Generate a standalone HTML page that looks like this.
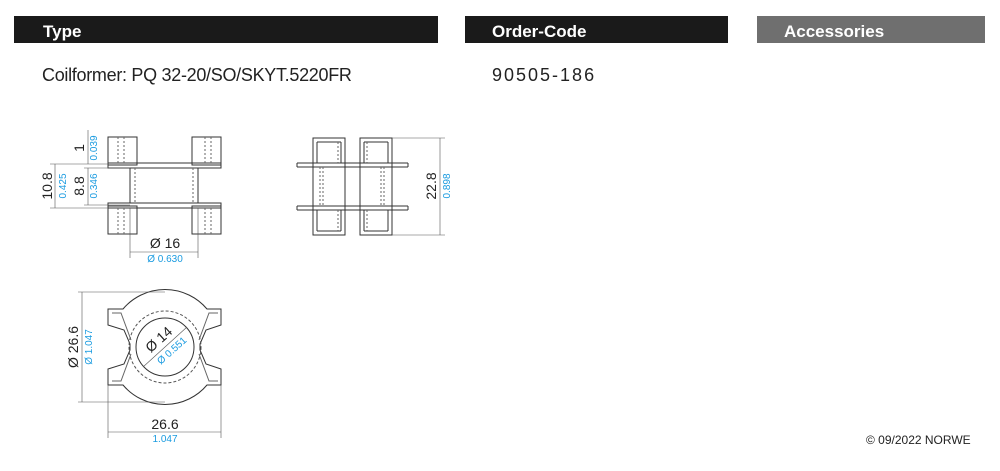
<!DOCTYPE html>
<html><head><meta charset="utf-8"><style>
html,body{margin:0;padding:0;background:#fff;}
body{width:1000px;height:466px;overflow:hidden;position:relative;font-family:"Liberation Sans",sans-serif;}
</style></head><body>
<svg width="1000" height="466" viewBox="0 0 1000 466" xmlns="http://www.w3.org/2000/svg" font-family="Liberation Sans, sans-serif">
<rect x="14" y="16" width="424" height="27" fill="#1a1a1a"/>
<rect x="465" y="16" width="263" height="27" fill="#1a1a1a"/>
<rect x="757" y="16" width="228" height="27" fill="#6f6f6f"/>
<text x="43" y="37" font-size="17" font-weight="bold" fill="#fff">Type</text>
<text x="492" y="37" font-size="17" font-weight="bold" fill="#fff">Order-Code</text>
<text x="784" y="37" font-size="17" font-weight="bold" fill="#fff">Accessories</text>
<text x="42" y="81" font-size="18" fill="#222" letter-spacing="-0.3">Coilformer:  PQ 32-20/SO/SKYT.5220FR</text>
<text x="492" y="81" font-size="18" fill="#222" letter-spacing="2">90505-186</text>
<text x="866" y="444" font-size="12" fill="#222">© 09/2022 NORWE</text>

<g fill="none" stroke="#333" stroke-width="1">
<rect x="108" y="137" width="29" height="28"/><rect x="192" y="137" width="29" height="28"/>
<rect x="108" y="206" width="29" height="28"/><rect x="192" y="206" width="29" height="28"/>
<rect x="108" y="163" width="113" height="5"/><rect x="108" y="203" width="113" height="5"/>
<line x1="130" y1="168" x2="130" y2="203"/><line x1="198" y1="168" x2="198" y2="203"/>
<g stroke-dasharray="2,2" stroke="#666">
<line x1="118" y1="137" x2="118" y2="163"/><line x1="124" y1="137" x2="124" y2="163"/><line x1="205" y1="137" x2="205" y2="163"/><line x1="211" y1="137" x2="211" y2="163"/>
<line x1="118" y1="208" x2="118" y2="234"/><line x1="124" y1="208" x2="124" y2="234"/><line x1="205" y1="208" x2="205" y2="234"/><line x1="211" y1="208" x2="211" y2="234"/>
<line x1="135" y1="168" x2="135" y2="203"/><line x1="193" y1="168" x2="193" y2="203"/>
</g>
<g stroke="#555" stroke-width="0.6">
<line x1="55" y1="164" x2="55" y2="208"/><line x1="50" y1="164" x2="108" y2="164"/><line x1="50" y1="208" x2="108" y2="208"/>
<line x1="88" y1="168" x2="88" y2="205"/><line x1="84" y1="168" x2="130" y2="168"/><line x1="84" y1="205" x2="130" y2="205"/>
<line x1="88" y1="130" x2="88" y2="164"/>
<line x1="130" y1="208" x2="130" y2="258"/><line x1="198" y1="208" x2="198" y2="258"/><line x1="130" y1="252" x2="198" y2="252"/>
</g>
<rect x="313" y="138" width="32" height="97"/><rect x="360" y="138" width="32" height="97"/>
<line x1="297" y1="163" x2="408" y2="163"/><line x1="297" y1="167" x2="408" y2="167"/>
<line x1="297" y1="206" x2="408" y2="206"/><line x1="297" y1="210" x2="408" y2="210"/>
<line x1="297" y1="163" x2="297" y2="167"/><line x1="408" y1="163" x2="408" y2="167"/>
<line x1="297" y1="206" x2="297" y2="210"/><line x1="408" y1="206" x2="408" y2="210"/>
<line x1="317" y1="142" x2="317" y2="163"/><line x1="341" y1="142" x2="341" y2="163"/><line x1="317" y1="142" x2="341" y2="142"/>
<line x1="364" y1="142" x2="364" y2="163"/><line x1="388" y1="142" x2="388" y2="163"/><line x1="364" y1="142" x2="388" y2="142"/>
<line x1="317" y1="210" x2="317" y2="231"/><line x1="341" y1="210" x2="341" y2="231"/><line x1="317" y1="231" x2="341" y2="231"/>
<line x1="364" y1="210" x2="364" y2="231"/><line x1="388" y1="210" x2="388" y2="231"/><line x1="364" y1="231" x2="388" y2="231"/>
<g stroke-dasharray="2,2" stroke="#666">
<line x1="320" y1="167" x2="320" y2="206"/><line x1="323" y1="167" x2="323" y2="206"/><line x1="381" y1="167" x2="381" y2="206"/><line x1="384" y1="167" x2="384" y2="206"/>
<line x1="338" y1="142" x2="338" y2="163"/><line x1="367" y1="142" x2="367" y2="163"/>
<line x1="338" y1="210" x2="338" y2="231"/><line x1="367" y1="210" x2="367" y2="231"/>
</g>
<g stroke="#555" stroke-width="0.6">
<line x1="392" y1="138" x2="445" y2="138"/><line x1="392" y1="235" x2="445" y2="235"/><line x1="440" y1="138" x2="440" y2="235"/>
</g>
<path d="M123 309 A55 55 0 0 1 207 309 L221 309 L221 325 L206 330 L200 344 L200 350 L206 364 L221 369 L221 385 L207 385 A55 55 0 0 1 123 385 L108 385 L108 369 L124 364 L130 350 L130 344 L124 330 L108 325 L108 309 Z" fill="#fff"/>
<path d="M112 313 L121 313 L131 340 M112 381 L121 381 L131 354 M218 313 L209 313 L199 340 M218 381 L209 381 L199 354" stroke="#666"/>
<circle cx="165" cy="347" r="29"/>
<circle cx="165" cy="347" r="36" stroke-dasharray="3,2" stroke="#555"/>
<g stroke="#555" stroke-width="0.6">
<line x1="143" y1="367" x2="187" y2="327"/>
<line x1="78" y1="292" x2="165" y2="292"/><line x1="78" y1="402" x2="165" y2="402"/><line x1="82" y1="292" x2="82" y2="402"/>
<line x1="108" y1="385" x2="108" y2="438"/><line x1="221" y1="385" x2="221" y2="438"/><line x1="108" y1="432" x2="221" y2="432"/>
</g>
</g>
<g font-size="14" fill="#222">
<text x="165" y="248" text-anchor="middle">Ø 16</text>
<text x="165" y="429" text-anchor="middle">26.6</text>
<text transform="translate(84,148) rotate(-90)" text-anchor="middle">1</text>
<text transform="translate(52,186) rotate(-90)" text-anchor="middle">10.8</text>
<text transform="translate(84,186) rotate(-90)" text-anchor="middle">8.8</text>
<text transform="translate(436,186) rotate(-90)" text-anchor="middle">22.8</text>
<text transform="translate(78,347) rotate(-90)" text-anchor="middle">Ø 26.6</text>
<text transform="translate(162,343) rotate(-42)" text-anchor="middle">Ø 14</text>
</g>
<g font-size="10" fill="#1a9be0">
<text x="165" y="262" text-anchor="middle">Ø 0.630</text>
<text x="165" y="442" text-anchor="middle">1.047</text>
<text transform="translate(97,148) rotate(-90)" text-anchor="middle">0.039</text>
<text transform="translate(66,186) rotate(-90)" text-anchor="middle">0.425</text>
<text transform="translate(97,186) rotate(-90)" text-anchor="middle">0.346</text>
<text transform="translate(450,186) rotate(-90)" text-anchor="middle">0.898</text>
<text transform="translate(92,347) rotate(-90)" text-anchor="middle">Ø 1.047</text>
<text transform="translate(174,353) rotate(-42)" text-anchor="middle">Ø 0.551</text>
</g>
</svg>
</body></html>
